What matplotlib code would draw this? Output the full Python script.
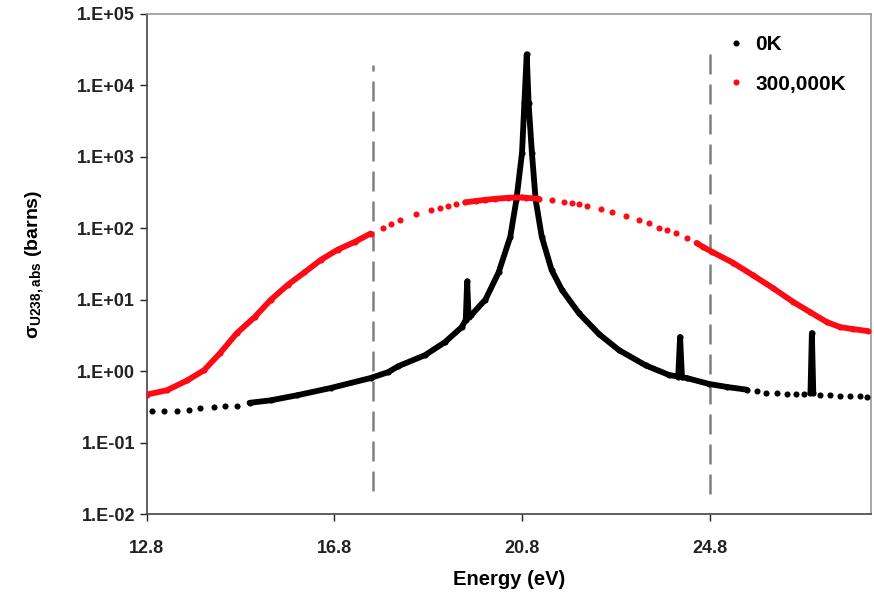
import matplotlib as mpl
import matplotlib.pyplot as plt
import numpy as np

plt.rcParams["font.family"] = ["Liberation Sans", "DejaVu Sans"]
plt.rcParams["font.weight"] = "bold"
plt.rcParams["mathtext.default"] = "regular"

# %% Data

# 300,000 K (red)
red_e = np.array([
    12.80, 13.23, 13.66, 14.02, 14.36, 14.72, 15.10, 15.44, 15.80, 16.16,
    16.51, 16.87, 17.23, 17.57, 17.84, 18.01, 18.20, 18.54, 18.86, 19.05,
    19.22, 19.40, 19.59, 19.81, 20.02, 20.23, 20.51, 20.80, 20.88, 21.16,
    21.43, 21.69, 21.86, 22.01, 22.18, 22.48, 22.71, 23.02, 23.30, 23.51,
    23.72, 23.89, 24.09, 24.31, 24.52, 24.65, 24.84, 25.29, 25.72, 26.15,
    26.58, 26.94, 27.30, 27.58, 27.86, 28.17,
])
red_s = np.array([
    0.47, 0.54, 0.74, 1.03, 1.78, 3.4, 5.7, 9.9, 16, 24,
    36, 50, 64, 84, 101, 115, 131, 159, 181, 193,
    205, 219, 229, 240, 249, 257, 266, 269, 266, 257,
    244, 229, 226, 219, 205, 186, 169, 149, 131, 119,
    101, 95, 86, 73, 62, 55, 47, 33, 22, 14.5,
    9.3, 6.7, 4.85, 4.13, 3.87, 3.63,
])

# 0 K (black)
blk_e = np.array([
    12.92, 13.16, 13.44, 13.70, 13.94, 14.24, 14.47, 14.72, 14.99, 15.44,
    16.01, 16.72, 17.57, 17.95, 18.16, 18.73, 19.16, 19.51, 19.60, 19.63,
    19.66, 19.72, 20.02, 20.30, 20.55, 20.68, 20.80, 20.85, 20.90, 20.94,
    21.01, 21.09, 21.22, 21.43, 21.65, 22.01, 22.44, 22.87, 23.44, 23.94,
    24.13, 24.17, 24.21, 24.31, 24.79, 25.17, 25.59, 25.80, 26.01, 26.23,
    26.44, 26.65, 26.82, 26.95, 26.98, 27.01, 27.16, 27.37, 27.58, 27.80,
    28.01, 28.15,
])
blk_s = np.array([
    0.277, 0.277, 0.28, 0.29, 0.30, 0.31, 0.32, 0.33, 0.36, 0.39,
    0.46, 0.58, 0.80, 0.97, 1.17, 1.67, 2.55, 4.1, 5.2, 18,
    5.8, 6.1, 10, 24, 76, 250, 1140, 5600, 27000, 5600,
    1140, 250, 76, 26, 13.7, 6.5, 3.3, 1.96, 1.2, 0.88,
    0.84, 3.0, 0.82, 0.80, 0.66, 0.60, 0.55, 0.52, 0.50, 0.49,
    0.48, 0.48, 0.48, 0.49, 3.4, 0.49, 0.46, 0.46, 0.45, 0.45,
    0.45, 0.44,
])

# dashed window markers (energy, bottom, top)
win_e = [17.62, 24.80]
win_lo = [0.021, 0.019]
win_hi = [1.9e4, 3.5e4]

x_ticks = [12.8, 16.8, 20.8, 24.8]

# %% Plot

fig = plt.figure(figsize=(8.74, 5.95), dpi=100)
ax = fig.add_axes([0.168, 0.136, 0.828, 0.841])


def draw(e, s, color, spans, label):
    ax.plot(e, s, "o", ms=4.4, mec="none", color=color, label=label, zorder=3)
    for lo, hi in spans:
        m = (e >= lo) & (e <= hi)
        ax.plot(e[m], s[m], "-", lw=4.2, color=color, solid_capstyle="round",
                solid_joinstyle="round", zorder=3)


draw(blk_e, blk_s, "black", [(14.98, 25.6), (26.9, 27.05)], "0K")
draw(red_e, red_s, "#ff0a14", [(12.8, 17.6), (19.5, 21.2), (24.5, 28.2)],
     "300,000K")

for e, lo, hi in zip(win_e, win_lo, win_hi):
    ax.plot([e, e], [lo, hi], color="#808080", lw=1.8, dashes=(8, 4), zorder=2)

ax.set_yscale("log")
ax.set_ylim(1e-2, 1e5)
ax.set_xlim(12.8, 28.23)
ax.set_xticks(x_ticks)
ax.set_xticklabels([f"{v:.1f}" for v in x_ticks])
ax.yaxis.set_major_locator(mpl.ticker.LogLocator(base=10, numticks=10))
ax.yaxis.set_minor_locator(mpl.ticker.NullLocator())
ax.yaxis.set_major_formatter(
    mpl.ticker.FuncFormatter(lambda v, p: f"1.E{int(round(np.log10(v))):+03d}")
)
ax.tick_params(labelsize=13, length=5, width=1, colors="#222222",
               direction="out")
ax.tick_params(axis="x", pad=14)
for lab in ax.get_xticklabels() + ax.get_yticklabels():
    lab.set_fontweight("bold")

for side in ["left", "bottom"]:
    ax.spines[side].set_color("#444444")
    ax.spines[side].set_linewidth(1.2)
for side in ["top", "right"]:
    ax.spines[side].set_color("#999999")
    ax.spines[side].set_linewidth(1.2)

ax.set_xlabel("Energy (eV)", fontsize=14.5, fontweight="bold", labelpad=9)
ax.set_ylabel(r"σ$_{U238,abs}$ (barns)", fontsize=14, fontweight="bold",
              labelpad=22)

ax.legend(loc="upper left", bbox_to_anchor=(0.775, 0.995), frameon=False,
          markerscale=1.0, handlelength=0.9,
          handletextpad=0.5, labelspacing=1.0, numpoints=1,
          prop={"weight": "bold", "size": 15})

fig.savefig("out.png", dpi=100)
